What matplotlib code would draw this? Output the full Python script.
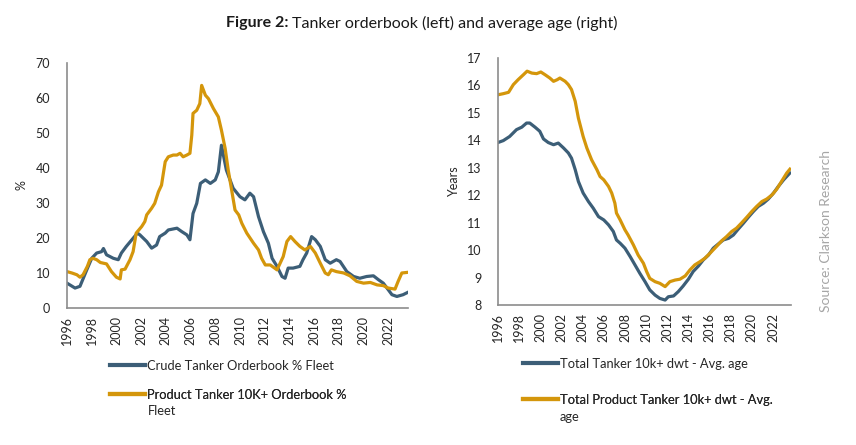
import matplotlib
matplotlib.use("Agg")
import matplotlib.pyplot as plt
from matplotlib.lines import Line2D

plt.rcParams['font.family'] = ['Lato', 'DejaVu Sans']

# ---------------- data ----------------
crude_years = [1996.0, 1996.65, 1997.05, 1997.6, 1998.0, 1998.4, 1998.8, 1998.95, 1999.2, 1999.75,
               2000.15, 2000.4, 2000.8, 2001.25, 2001.7, 2001.9, 2002.45, 2002.85, 2003.25, 2003.5,
               2003.95, 2004.2, 2004.9, 2005.3, 2005.7, 2005.95, 2006.2, 2006.5, 2006.8, 2007.2,
               2007.6, 2008.0, 2008.25, 2008.5, 2008.9, 2009.45, 2010.0, 2010.4, 2010.8, 2011.1,
               2011.5, 2011.9, 2012.3, 2012.6, 2013.0, 2013.4, 2013.65, 2013.9, 2014.3, 2014.85,
               2015.1, 2015.4, 2015.8, 2016.1, 2016.5, 2016.9, 2017.3, 2017.55, 2017.8, 2018.1,
               2018.65, 2019.2, 2019.7, 2020.25, 2020.8, 2021.2, 2021.6, 2021.9, 2022.3, 2022.7,
               2023.2, 2023.6]
crude_ob = [7.1, 5.7, 6.2, 10.9, 14.2, 15.7, 16.1, 17.0, 15.2, 14.2,
            13.8, 15.7, 17.6, 19.5, 21.4, 20.9, 19.0, 17.1, 18.0, 20.4,
            21.4, 22.3, 22.8, 21.8, 20.9, 19.5, 27.0, 29.9, 35.6, 36.6,
            35.6, 36.6, 38.9, 46.5, 39.4, 34.2, 31.8, 30.9, 32.8, 31.8,
            26.1, 21.8, 18.5, 14.2, 11.9, 9.0, 8.5, 11.4, 11.4, 11.9,
            13.8, 15.7, 20.4, 19.5, 17.6, 13.8, 12.8, 13.3, 13.8, 13.3,
            10.4, 9.0, 8.5, 9.0, 9.2, 8.1, 7.1, 5.7, 3.8, 3.3,
            3.8, 4.5]

product_years = [1996.0, 1996.4, 1996.8, 1997.05, 1997.3, 1997.65, 1997.85, 1998.1, 1998.4, 1998.7,
                 1999.2, 1999.6, 2000.0, 2000.3, 2000.4, 2000.7, 2001.1, 2001.35, 2001.6, 2002.05,
                 2002.3, 2002.45, 2002.85, 2003.1, 2003.4, 2003.65, 2003.8, 2003.95, 2004.2, 2004.6,
                 2004.9, 2005.15, 2005.4, 2005.7, 2005.95, 2006.1, 2006.2, 2006.5, 2006.75, 2006.9,
                 2007.2, 2007.45, 2007.85, 2008.25, 2008.5, 2008.8, 2009.05, 2009.35, 2009.6, 2009.9,
                 2010.15, 2010.55, 2011.1, 2011.5, 2011.75, 2012.05, 2012.45, 2013.0, 2013.25, 2013.5,
                 2013.8, 2014.1, 2014.45, 2014.85, 2015.25, 2015.7, 2016.1, 2016.5, 2016.9, 2017.15,
                 2017.4, 2017.8, 2018.4, 2018.9, 2019.45, 2020.0, 2020.55, 2021.1, 2021.6, 2022.0,
                 2022.55, 2022.8, 2023.1, 2023.6]
product_ob = [10.4, 10.0, 9.5, 8.8, 9.5, 11.9, 13.8, 14.2, 13.8, 13.0,
              12.6, 10.4, 8.8, 8.3, 10.9, 11.1, 13.8, 16.1, 21.4, 23.3,
              24.7, 26.6, 28.5, 29.9, 33.2, 35.1, 38.5, 41.8, 43.2, 43.7,
              43.7, 44.2, 43.2, 43.7, 44.2, 49.4, 55.6, 56.5, 58.4, 63.6,
              60.8, 59.8, 57.0, 54.6, 50.8, 45.6, 39.4, 33.2, 28.0, 26.6,
              24.2, 21.4, 18.5, 16.6, 14.2, 12.3, 12.3, 10.9, 12.8, 14.7,
              19.0, 20.4, 19.0, 17.6, 16.6, 17.6, 15.7, 12.8, 10.0, 9.5,
              10.9, 10.4, 10.0, 9.2, 7.6, 7.1, 7.3, 6.6, 6.4, 5.7,
              5.4, 7.6, 10.0, 10.2]

total_age_years = [1996.0, 1996.5, 1997.1, 1997.75, 1998.25, 1998.7, 1999.0, 1999.5, 1999.95, 2000.3,
                   2000.75, 2001.25, 2001.7, 2002.2, 2002.65, 2002.95, 2003.3, 2003.6, 2004.05, 2004.55,
                   2005.0, 2005.5, 2006.0, 2006.45, 2006.9, 2007.2, 2007.55, 2008.0, 2008.5, 2008.95,
                   2009.4, 2009.9, 2010.35, 2010.85, 2011.3, 2011.8, 2012.1, 2012.6, 2013.05, 2013.5,
                   2014.0, 2014.45, 2014.95, 2015.4, 2015.9, 2016.35, 2016.85, 2017.3, 2017.8, 2018.25,
                   2018.7, 2019.2, 2019.65, 2020.15, 2020.6, 2021.1, 2021.55, 2022.05, 2022.5, 2023.0,
                   2023.6]
total_age = [13.92, 13.99, 14.14, 14.39, 14.48, 14.63, 14.63, 14.48, 14.33, 14.05,
             13.92, 13.84, 13.90, 13.72, 13.54, 13.35, 12.93, 12.50, 12.08, 11.77,
             11.53, 11.22, 11.10, 10.92, 10.68, 10.37, 10.25, 10.07, 9.76, 9.46,
             9.16, 8.85, 8.55, 8.36, 8.24, 8.18, 8.30, 8.33, 8.49, 8.69,
             8.94, 9.22, 9.42, 9.64, 9.82, 10.07, 10.23, 10.37, 10.43, 10.55,
             10.76, 10.98, 11.19, 11.41, 11.59, 11.71, 11.86, 12.08, 12.32, 12.56,
             12.81]

product_age_years = [1996.0, 1996.5, 1997.0, 1997.45, 1997.9, 1998.4, 1998.75, 1999.2, 1999.65, 2000.05,
                     2000.45, 2000.9, 2001.25, 2001.6, 2001.85, 2002.35, 2002.65, 2002.95, 2003.3, 2003.6,
                     2004.05, 2004.4, 2004.85, 2005.35, 2005.65, 2006.0, 2006.45, 2006.75, 2007.05, 2007.2,
                     2007.55, 2008.0, 2008.3, 2008.8, 2009.25, 2009.75, 2010.05, 2010.35, 2010.85, 2011.3,
                     2011.8, 2012.25, 2012.75, 2013.2, 2013.7, 2014.15, 2014.6, 2015.1, 2015.55, 2016.05,
                     2016.65, 2017.15, 2017.6, 2018.1, 2018.55, 2019.05, 2019.5, 2020.0, 2020.45, 2020.95,
                     2021.4, 2021.9, 2022.35, 2022.8, 2023.3, 2023.6]
product_age = [15.66, 15.70, 15.75, 16.03, 16.21, 16.39, 16.52, 16.45, 16.43, 16.49,
               16.39, 16.27, 16.15, 16.21, 16.27, 16.15, 16.03, 15.85, 15.42, 14.81,
               14.14, 13.72, 13.29, 12.93, 12.68, 12.56, 12.32, 12.08, 11.71, 11.35,
               11.10, 10.74, 10.55, 10.19, 9.82, 9.52, 9.22, 8.97, 8.85, 8.79,
               8.67, 8.85, 8.91, 8.94, 9.06, 9.28, 9.46, 9.58, 9.70, 9.89,
               10.13, 10.34, 10.49, 10.68, 10.80, 11.00, 11.19, 11.41, 11.59, 11.77,
               11.86, 12.01, 12.22, 12.50, 12.81, 12.95]

tick_years = list(range(1996, 2023, 2))
left_yticks = [0, 10, 20, 30, 40, 50, 60, 70]
right_yticks = [8, 9, 10, 11, 12, 13, 14, 15, 16, 17]

# legend labels (first line, wrapped continuation)
labels_left = [("Crude Tanker Orderbook % Fleet", None),
               ("Product Tanker 10K+ Orderbook %", "Fleet")]
labels_right = [("Total Tanker 10k+ dwt - Avg. age", None),
                ("Total Product Tanker 10k+ dwt - Avg.", "age")]

# ---------------- style ----------------
BLUE = "#3C5E77"
ORANGE = "#D4960B"
SPINE = "#8C8C8C"
TXT = "#262626"
W, H = 856, 445
FS_TICK = 9
FS_LEG = 9.3

fig = plt.figure(figsize=(W / 100, H / 100), dpi=100)

def style(ax, xmax, yl, yt):
    ax.set_xlim(1996, xmax)
    ax.set_ylim(*yl)
    ax.set_yticks(yt)
    ax.set_xticks(tick_years)
    ax.set_xticklabels([str(y) for y in tick_years], rotation=90)
    for s in ("top", "right"):
        ax.spines[s].set_visible(False)
    for s in ("left", "bottom"):
        ax.spines[s].set_color(SPINE)
        ax.spines[s].set_linewidth(1.2)
    ax.tick_params(axis="y", length=0, pad=12, labelsize=FS_TICK, labelcolor=TXT)
    ax.tick_params(axis="x", length=0, pad=6, labelsize=FS_TICK, labelcolor=TXT)

# Left axes
axL = fig.add_axes([67 / W, 1 - 308 / H, 341 / W, 245 / H])
l1, = axL.plot(crude_years, crude_ob, color=BLUE, lw=2.3, solid_joinstyle="round")
l2, = axL.plot(product_years, product_ob, color=ORANGE, lw=2.3, solid_joinstyle="round")
style(axL, 2023.6, (0, 70), left_yticks)
axL.set_ylabel("%", fontsize=FS_TICK, color=TXT, labelpad=6)

# Right axes
axR = fig.add_axes([498 / W, 1 - 305 / H, 293 / W, 247 / H])
r1, = axR.plot(total_age_years, total_age, color=BLUE, lw=2.3, solid_joinstyle="round")
r2, = axR.plot(product_age_years, product_age, color=ORANGE, lw=2.3, solid_joinstyle="round")
style(axR, 2023.7, (8, 17), right_yticks)
axR.set_ylabel("Years", fontsize=FS_TICK, color=TXT, labelpad=5)

def entry(ax, handle, label, x, y, text_x, cont_dy=16):
    first, cont = label
    h = Line2D([], [], color=handle.get_color(), lw=3)
    leg = ax.legend([h], [first], loc="center left", bbox_to_anchor=(x / W, 1 - y / H),
                    bbox_transform=fig.transFigure, frameon=False, handlelength=2.7,
                    handletextpad=0.15, borderpad=0, borderaxespad=0, fontsize=FS_LEG)
    for t in leg.get_texts():
        t.set_color(TXT)
    ax.add_artist(leg)
    if cont:
        fig.text(text_x / W, 1 - (y + cont_dy) / H, cont, ha="left", va="center",
                 fontsize=FS_LEG, color=TXT)

entry(axL, l1, labels_left[0], 110, 366, 148)
entry(axL, l2, labels_left[1], 110, 395, 148, 16)
entry(axR, r1, labels_right[0], 523, 364, 560)
entry(axR, r2, labels_right[1], 523, 400, 560, 17)

# Title
fig.text(288 / W, 1 - 23 / H, "Figure 2:", ha="right", va="center", fontsize=11.5,
         fontweight="bold", color="#1a1a1a")
fig.text(292 / W, 1 - 23 / H, "Tanker orderbook (left) and average age (right)", ha="left",
         va="center", fontsize=11.5, color="#1a1a1a")

# Source
fig.text(826 / W, 1 - 231 / H, "Source: Clarkson Research", rotation=90, ha="center",
         va="center", fontsize=10, color="#A6A6A6")

fig.savefig("out.png", dpi=100)
